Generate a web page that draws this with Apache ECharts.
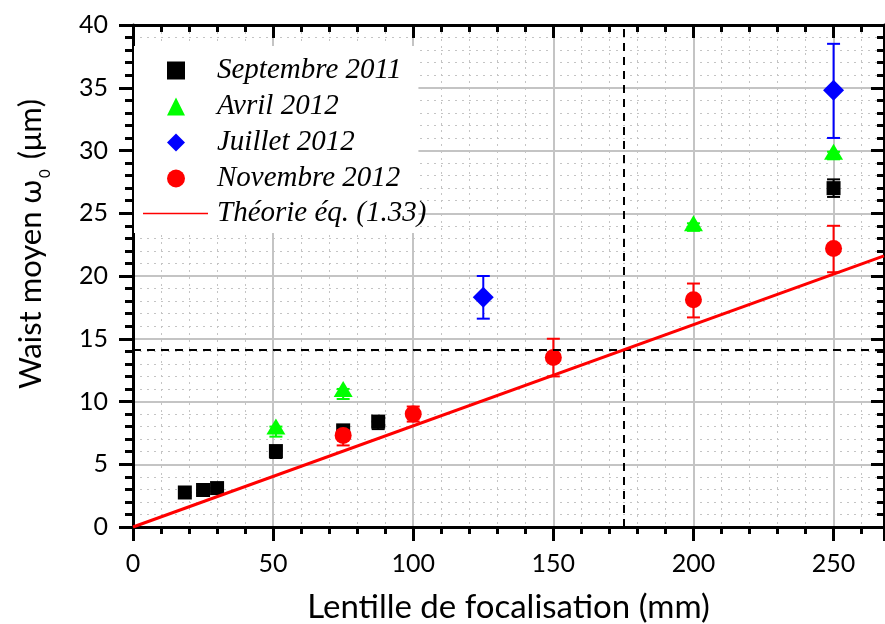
<!DOCTYPE html>
<html>
<head>
<meta charset="utf-8">
<script src="https://cdn.jsdelivr.net/npm/echarts@6/dist/echarts.min.js"></script>
<style>
  html, body {margin: 0; padding: 0; background: #fff;}
  #chart {width: 885px; height: 624px;}
</style>
</head>
<body>
<div id="chart"></div>
<script>
// Septembre 2011
var sepX = [18.5, 25, 30, 51, 75, 87.5, 250];
var sepY = [2.75, 2.95, 3.1, 6.05, 7.7, 8.4, 27.0];
var sepLow = [2.5, 2.7, 2.85, 5.5, 7.2, 7.8, 26.3];
var sepHigh = [2.75, 2.95, 3.1, 6.05, 7.7, 8.4, 27.7];
// Avril 2012
var aprX = [51, 75, 200, 250];
var aprY = [8.0, 11.0, 24.2, 29.9];
var aprLow = [7.2, 10.2, 23.6, 29.3];
var aprHigh = [8.0, 11.0, 24.2, 29.9];
// Juillet 2012
var julX = [125, 250];
var julY = [18.3, 34.8];
var julLow = [16.6, 31.0];
var julHigh = [20.0, 38.5];
// Novembre 2012
var novX = [75, 100, 150, 200, 250];
var novY = [7.3, 9.0, 13.5, 18.1, 22.2];
var novLow = [6.5, 8.4, 12.0, 16.7, 20.3];
var novHigh = [8.1, 9.6, 15.0, 19.4, 24.0];
// Theorie eq. (1.33)
var theoX = [0, 268];
var theoY = [0, 21.6];
// dashed guides
var guideX = 175;
var guideY = 14.1;

var names = ['Septembre 2011', 'Avril 2012', 'Juillet 2012', 'Novembre 2012', 'Théorie éq. (1.33)'];

function pts(xs, ys) {
  return xs.map(function (x, i) { return [x, ys[i]]; });
}
function errs(xs, lo, hi) {
  return xs.map(function (x, i) { return [x, lo[i], hi[i]]; });
}
function errRender(color) {
  return function (params, api) {
    var x = api.value(0);
    var pLo = api.coord([x, api.value(1)]);
    var pHi = api.coord([x, api.value(2)]);
    var w = 6.5;
    var st = {stroke: color, lineWidth: 2};
    return {
      type: 'group',
      children: [
        {type: 'line', shape: {x1: pLo[0], y1: pLo[1], x2: pHi[0], y2: pHi[1]}, style: st},
        {type: 'line', shape: {x1: pLo[0] - w, y1: pLo[1], x2: pLo[0] + w, y2: pLo[1]}, style: st},
        {type: 'line', shape: {x1: pHi[0] - w, y1: pHi[1], x2: pHi[0] + w, y2: pHi[1]}, style: st}
      ]
    };
  };
}
function errSeries(xs, lo, hi, color) {
  return {
    type: 'custom',
    renderItem: errRender(color),
    data: errs(xs, lo, hi),
    encode: {x: 0, y: [1, 2]},
    z: 3,
    silent: true
  };
}

var font = 'Lato';
var gridColor = '#c4c4c4';
var legendText = {color: '#000', fontFamily: 'Liberation Serif', fontStyle: 'italic',
  fontSize: 29, lineHeight: 29};

var myChart = echarts.init(document.getElementById('chart'));
var option = {
  backgroundColor: '#fff',
  animation: false,
  grid: {left: 133, right: 1, top: 25, bottom: 97, outerBoundsMode: 'none', containLabel: false},
  xAxis: [{
    type: 'value',
    min: 0,
    max: 268,
    interval: 50,
    axisLine: {show: true, onZero: false, lineStyle: {color: '#000', width: 3}},
    axisTick: {show: true, length: 14, lineStyle: {color: '#000', width: 3}},
    minorTick: {show: true, splitNumber: 5, length: 7, lineStyle: {color: '#000', width: 3}},
    axisLabel: {color: '#000', fontFamily: font, fontSize: 25, margin: 24,
      showMaxLabel: false},
    splitLine: {show: true, lineStyle: {color: gridColor, width: 2}},
    minorSplitLine: {show: true, lineStyle: {color: gridColor, width: 1, type: [2, 5]}},
    name: 'Lentille de focalisation (mm)',
    nameLocation: 'middle',
    nameGap: 64,
    nameTextStyle: {color: '#000', fontFamily: font, fontSize: 33}
  }, {
    type: 'value',
    position: 'top',
    min: 0,
    max: 268,
    interval: 50,
    axisLine: {show: true, onZero: false, lineStyle: {color: '#000', width: 3}},
    axisTick: {show: true, inside: true, length: 13, lineStyle: {color: '#000', width: 3}},
    minorTick: {show: true, splitNumber: 5, length: 7, lineStyle: {color: '#000', width: 3}},
    axisLabel: {show: false},
    splitLine: {show: false}
  }],
  yAxis: [{
    type: 'value',
    min: 0,
    max: 40,
    interval: 5,
    axisLine: {show: true, onZero: false, lineStyle: {color: '#000', width: 3}},
    axisTick: {show: true, length: 14, lineStyle: {color: '#000', width: 3}},
    minorTick: {show: true, splitNumber: 5, length: 8, lineStyle: {color: '#000', width: 3}},
    axisLabel: {color: '#000', fontFamily: font, fontSize: 25, margin: 25},
    splitLine: {show: true, lineStyle: {color: gridColor, width: 2}},
    minorSplitLine: {show: true, lineStyle: {color: gridColor, width: 1, type: [2, 5]}}
  }, {
    type: 'value',
    position: 'right',
    min: 0,
    max: 40,
    interval: 5,
    axisLine: {show: true, onZero: false, lineStyle: {color: '#000', width: 3}},
    axisTick: {show: true, inside: true, length: 13, lineStyle: {color: '#000', width: 3}},
    minorTick: {show: true, splitNumber: 5, length: 7, lineStyle: {color: '#000', width: 3}},
    axisLabel: {show: false},
    splitLine: {show: false}
  }],
  legend: [{
    data: names.slice(0, 4),
    orient: 'vertical',
    left: 134,
    top: 46,
    padding: [10, 17, 40, 33],
    backgroundColor: '#fff',
    itemWidth: 18,
    itemHeight: 18,
    itemGap: 7,
    z: 10,
    textStyle: Object.assign({padding: [0, 0, 0, 27]}, legendText)
  }, {
    data: [names[4]],
    icon: 'rect',
    orient: 'vertical',
    left: 143,
    top: 199,
    padding: 0,
    itemWidth: 65,
    itemHeight: 1.5,
    z: 11,
    textStyle: Object.assign({padding: [0, 0, 0, 4]}, legendText)
  }],
  graphic: [{
    type: 'text',
    x: 33,
    y: 244,
    rotation: Math.PI / 2,
    style: {
      text: '{a|Waist moyen ω}{s|0}{a| (μm)}',
      align: 'center',
      verticalAlign: 'middle',
      fill: '#000',
      rich: {
        a: {fontFamily: font, fontSize: 31, lineHeight: 36, verticalAlign: 'top'},
        s: {fontFamily: font, fontSize: 15, lineHeight: 15, verticalAlign: 'top', padding: [23, 2, 0, 2]}
      }
    }
  }],
  series: [
    errSeries(sepX, sepLow, sepHigh, '#000'),
    errSeries(aprX, aprLow, aprHigh, '#00ff00'),
    errSeries(julX, julLow, julHigh, '#0000ff'),
    errSeries(novX, novLow, novHigh, '#ff0000'),
    {
      name: names[0], type: 'scatter', symbol: 'rect', symbolSize: 14,
      itemStyle: {color: '#000', opacity: 1}, data: pts(sepX, sepY), z: 4
    },
    {
      name: names[1], type: 'scatter', symbol: 'triangle', symbolSize: [19, 16],
      itemStyle: {color: '#00ff00', opacity: 1}, data: pts(aprX, aprY), z: 4
    },
    {
      name: names[2], type: 'scatter', symbol: 'diamond', symbolSize: [21, 21],
      itemStyle: {color: '#0000ff', opacity: 1}, data: pts(julX, julY), z: 4
    },
    {
      name: names[3], type: 'scatter', symbol: 'circle', symbolSize: 17,
      itemStyle: {color: '#ff0000', opacity: 1}, data: pts(novX, novY), z: 4
    },
    {
      name: names[4], type: 'line', symbol: 'none',
      lineStyle: {color: '#ff0000', width: 3},
      itemStyle: {color: '#ff0000'},
      data: pts(theoX, theoY), z: 5,
      markLine: {
        silent: true,
        symbol: 'none',
        label: {show: false},
        lineStyle: {color: '#000', width: 2, type: [8, 6]},
        data: [{xAxis: guideX}, {yAxis: guideY}]
      }
    }
  ]
};
myChart.setOption(option);
</script>
</body>
</html>
